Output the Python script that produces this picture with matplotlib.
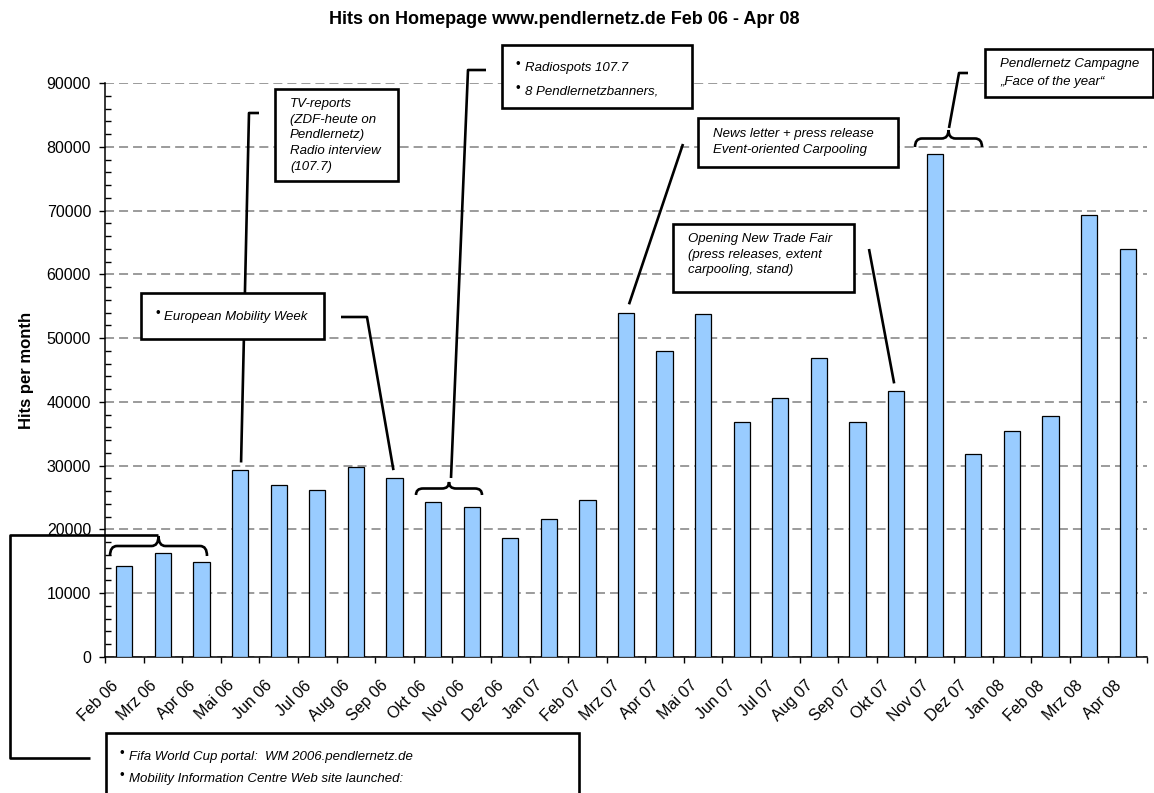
import matplotlib
matplotlib.use("Agg")
import matplotlib.pyplot as plt
from matplotlib.path import Path
from matplotlib.patches import PathPatch, Rectangle
from matplotlib.transforms import ScaledTranslation
import numpy as np

plt.rcParams['font.family'] = ['Liberation Sans', 'DejaVu Sans']
plt.rcParams['lines.scale_dashes'] = False

months = ["Feb 06", "Mrz 06", "Apr 06", "Mai 06", "Jun 06", "Jul 06", "Aug 06", "Sep 06",
          "Okt 06", "Nov 06", "Dez 06", "Jan 07", "Feb 07", "Mrz 07", "Apr 07", "Mai 07",
          "Jun 07", "Jul 07", "Aug 07", "Sep 07", "Okt 07", "Nov 07", "Dez 07", "Jan 08",
          "Feb 08", "Mrz 08", "Apr 08"]
hits = [14200, 16300, 14900, 29300, 27000, 26200, 29800, 28100,
        24300, 23500, 18600, 21600, 24600, 53900, 48000, 53800,
        36800, 40600, 46900, 36800, 41700, 78800, 31800, 35400,
        37800, 69300, 64000]
yticks = [0, 10000, 20000, 30000, 40000, 50000, 60000, 70000, 80000, 90000]

title = "Hits on Homepage www.pendlernetz.de Feb 06 - Apr 08"
ylabel = "Hits per month"

W, H = 1154, 793
fig = plt.figure(figsize=(W / 100, H / 100), dpi=100)
ax = fig.add_axes([105 / W, 1 - 657 / H, (1147 - 105) / W, (657 - 83) / H])

x = np.arange(len(months))
ax.bar(x, hits, width=0.42, color="#99CCFF", edgecolor="black", linewidth=0.9, zorder=3)
ax.set_xlim(-0.5, len(months) - 0.5)
ax.set_ylim(0, 90000)
ax.set_yticks(yticks)
ax.set_yticks(np.arange(0, 90001, 2000), minor=True)
ax.yaxis.grid(True, which="major", color="#808080", linewidth=1.1, linestyle=(0, (6.5, 3.6)), zorder=1)
ax.tick_params(axis="y", which="major", direction="out", length=4, width=1, pad=6, labelsize=11.5)
ax.tick_params(axis="y", which="minor", direction="in", length=4, width=1)
ax.set_xticks(x)
ax.set_xticks(np.arange(-0.5, len(months), 1), minor=True)
ax.set_xticklabels(months, rotation=45, ha="right", va="top", rotation_mode="anchor", fontsize=11.5)
ax.tick_params(axis="x", which="major", length=0, pad=10)
ax.tick_params(axis="x", which="minor", direction="out", length=4, width=1)
shift = ScaledTranslation(-0.14, -0.07, fig.dpi_scale_trans)
for lab in ax.get_xticklabels():
    lab.set_transform(lab.get_transform() + shift)
for s in ["top", "right"]:
    ax.spines[s].set_visible(False)
for s in ["left", "bottom"]:
    ax.spines[s].set_linewidth(1.1)
ax.set_ylabel(ylabel, fontsize=12, fontweight="bold", labelpad=9)
fig.text(564 / W, 1 - 20 / H, title, ha="center", va="center", fontsize=13, fontweight="bold")

# overlay in pixel coordinates (y down)
ov = fig.add_axes([0, 0, 1, 1], zorder=5)
ov.set_xlim(0, W)
ov.set_ylim(H, 0)
ov.axis("off")


def bar_top(i, off=0):
    dx, dy = ax.transData.transform((i, hits[i] + off))
    return dx, H - dy


LW = 1.9


def line(pts):
    xs, ys = zip(*pts)
    ov.plot(xs, ys, color="black", linewidth=LW, solid_capstyle="butt", zorder=2)


def box(x0, y0, x1, y1):
    ov.add_patch(Rectangle((x0, y0), x1 - x0, y1 - y0, facecolor="white",
                           edgecolor="black", linewidth=LW, zorder=3))


def brace(x0, x1, ytip, ybot):
    xc = (x0 + x1) / 2
    ym = (ytip + ybot) / 2
    r = 7
    verts = [(x0, ybot), (x0, ym), (x0 + r, ym), (xc - r, ym), (xc, ym), (xc, ytip),
             (xc, ym), (xc + r, ym), (x1 - r, ym), (x1, ym), (x1, ybot)]
    codes = [Path.MOVETO, Path.CURVE3, Path.CURVE3, Path.LINETO, Path.CURVE3, Path.CURVE3,
             Path.CURVE3, Path.CURVE3, Path.LINETO, Path.CURVE3, Path.CURVE3]
    ov.add_patch(PathPatch(Path(verts, codes), facecolor="none", edgecolor="black",
                           linewidth=LW, zorder=2))


def txt(xp, yp, s, size=9.5):
    ov.text(xp, yp, s, fontsize=size, style="italic", ha="left", va="center", zorder=4)


def bullet(xp, yp, s, size=9.5):
    ov.text(xp, yp - 3, "\u2022", fontsize=size, ha="left", va="center", zorder=4)
    txt(xp + 9, yp, s, size)


# Bottom box (Feb-Apr 06)
brace(110, 207, 536, 556)
line([(158, 535), (10, 535), (10, 758), (90, 758)])
box(106, 733, 579, 820)
bullet(120, 757, "Fifa World Cup portal:  WM 2006.pendlernetz.de", 9.5)
bullet(120, 779, "Mobility Information Centre Web site launched:", 9.5)

# TV reports -> Mai 06
mx, my = bar_top(3, 1200)
line([(259, 113), (249, 113), (mx + 1, my)])
box(275, 89, 398, 181)
for k, s in enumerate(["TV-reports", "(ZDF-heute on", "Pendlernetz)", "Radio interview", "(107.7)"]):
    txt(290, 104 + k * 15.7, s)

# European Mobility Week -> Sep 06
sx, sy = bar_top(7, 1200)
line([(341, 317), (367, 317), (sx - 1, sy)])
box(141, 293, 324, 339)
bullet(155, 317, "European Mobility Week")

# Radiospots -> Okt/Nov 06
brace(416, 482, 482, 495)
line([(486, 70), (468, 70), (451, 478)])
box(502, 45, 692, 108)
bullet(516, 68, "Radiospots 107.7")
bullet(516, 92, "8 Pendlernetzbanners,")

# News letter -> Mrz 07
nx, ny = bar_top(13, 1400)
line([(683, 144), (nx + 3, ny)])
box(698, 118, 898, 167)
txt(713, 134, "News letter + press release")
txt(713, 150, "Event-oriented Carpooling")

# Trade Fair -> Okt 07
tx, ty = bar_top(20, 1200)
line([(869, 249), (tx - 2, ty)])
box(673, 224, 854, 292)
for k, s in enumerate(["Opening New Trade Fair", "(press releases, extent", "carpooling, stand)"]):
    txt(688, 239 + k * 15.7, s)

# Campagne -> Nov/Dez 07
brace(915, 982, 130, 147)
line([(968, 73), (959, 73), (949, 128)])
box(985, 49, 1153, 97)
txt(1000, 64, "Pendlernetz Campagne")
txt(1000, 82, "\u201eFace of the year\u201c")

fig.savefig("out.png", dpi=100)
